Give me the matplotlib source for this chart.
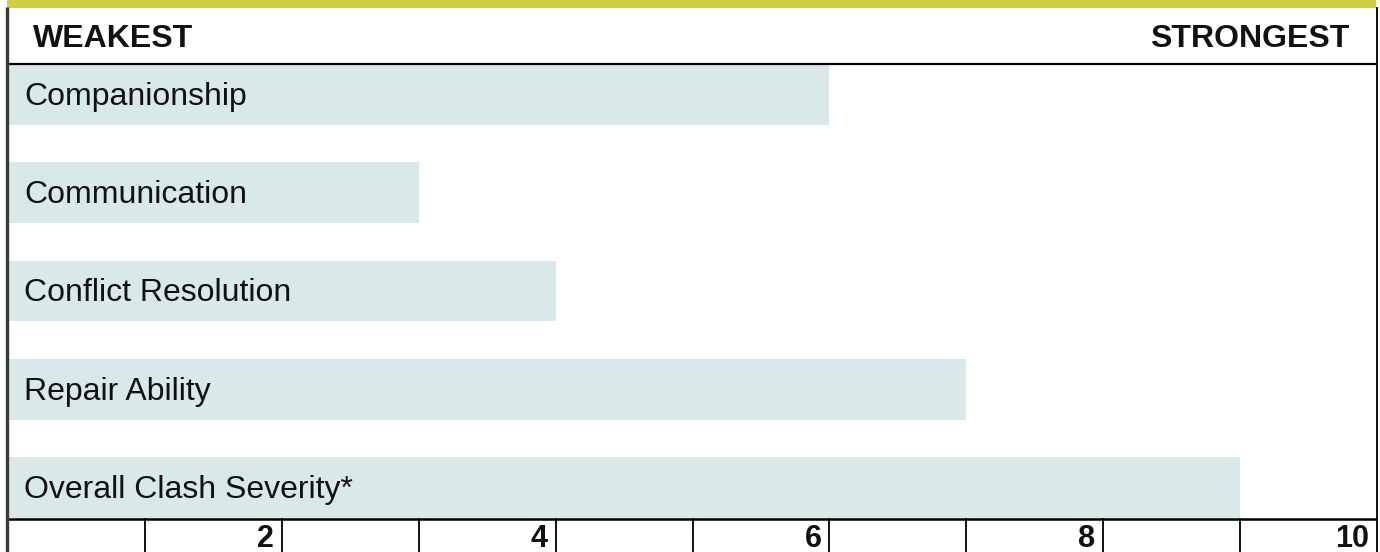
import matplotlib
matplotlib.use("Agg")
import matplotlib.pyplot as plt
from matplotlib.patches import Rectangle
from matplotlib.lines import Line2D

plt.rcParams['font.family'] = ['Liberation Sans', 'DejaVu Sans']

# ---- data ----
categories = ["Companionship", "Communication", "Conflict Resolution",
              "Repair Ability", "Overall Clash Severity*"]
values = [6, 3, 4, 7, 9]
scale_max = 10
tick_labels = ["2", "4", "6", "8", "10"]
tick_values = [2, 4, 6, 8, 10]
left_label = "WEAKEST"
right_label = "STRONGEST"

W, H = 1380, 552
fig = plt.figure(figsize=(W / 100, H / 100), dpi=100)
fig.patch.set_facecolor("white")

def rect(x0, y0, x1, y1):
    return [x0 / W, 1 - y1 / H, (x1 - x0) / W, (y1 - y0) / H]

BAR_COLOR = "#d9e8e8"
PX = 0.72  # points per pixel

# bars axes
ax = fig.add_axes(rect(8, 64, 1377, 518))
bar_h = 0.615
ax.barh(range(len(categories)), values, height=bar_h, color=BAR_COLOR, edgecolor="none")
ax.set_xlim(0, scale_max)
ax.set_ylim(len(categories) - 1 + bar_h / 2, -bar_h / 2)
ax.axis("off")
for i, lab in enumerate(categories):
    ax.annotate(lab, xy=(0, i), xytext=(16 * PX, -10.5 * PX), textcoords="offset points",
                ha="left", va="baseline", fontsize=23, color="#111111")

# header axes
hax = fig.add_axes(rect(8, 7, 1377, 64), sharex=ax)
hax.set_xlim(0, scale_max)
hax.set_ylim(0, 1)
hax.axis("off")
hax.annotate(left_label, xy=(0, 0), xycoords=("data", "axes fraction"),
             xytext=(25 * PX, 17 * PX), textcoords="offset points",
             ha="left", va="baseline", fontsize=23, fontweight="bold", color="#111111")
hax.annotate(right_label, xy=(scale_max, 0), xycoords=("data", "axes fraction"),
             xytext=(-28 * PX, 17 * PX), textcoords="offset points",
             ha="right", va="baseline", fontsize=23, fontweight="bold", color="#111111")

# scale axes
sax = fig.add_axes(rect(8, 518, 1377, 552), sharex=ax)
sax.set_xlim(0, scale_max)
sax.set_ylim(0, 1)
sax.axis("off")
for v in range(1, scale_max):
    sax.axvline(v, color="black", lw=1.3)
for v, lab in zip(tick_values, tick_labels):
    sax.annotate(lab, xy=(v, 0), xycoords=("data", "axes fraction"),
                 xytext=(-8 * PX, 5 * PX), textcoords="offset points",
                 ha="right", va="baseline", fontsize=22, fontweight="bold", color="#111111")

# decorations in figure pixel space
def hline(y, x0, x1, lw, color):
    fig.add_artist(Line2D([x0 / W, x1 / W], [1 - y / H, 1 - y / H], lw=lw, color=color,
                          transform=fig.transFigure, solid_capstyle="butt"))

def vline(x, y0, y1, lw, color):
    fig.add_artist(Line2D([x / W, x / W], [1 - y0 / H, 1 - y1 / H], lw=lw, color=color,
                          transform=fig.transFigure, solid_capstyle="butt"))

fig.add_artist(Rectangle((7 / W, 1 - 7.5 / H), (1376 - 7) / W, 7.5 / H,
                         transform=fig.transFigure, color="#cdcf3e", lw=0))
hline(64, 7, 1377, 1.6, "black")
hline(518.5, 7, 1377, 1.8, "black")
vline(7, 7, 552, 2.4, "#3a3a3a")
vline(1377, 7, 552, 1.3, "black")

fig.savefig("out.png", dpi=100)
